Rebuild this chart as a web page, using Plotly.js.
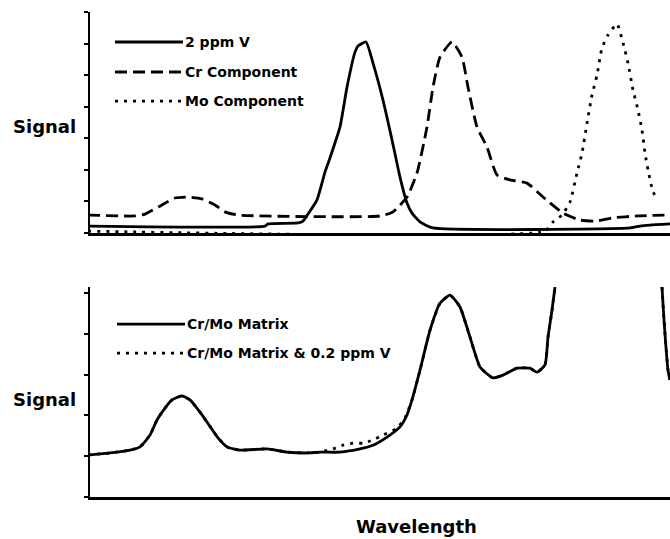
<!DOCTYPE html>
<html>
<head>
<meta charset="utf-8">
<script src="https://cdn.plot.ly/plotly-3.0.1.min.js"></script>
<style>html,body{margin:0;padding:0;background:#fff;}#chart{width:670px;height:539px;}</style>
</head>
<body>
<div id="chart"></div>
<script>
// ---- Top panel (arbitrary wavelength units) ----
var vX = [0,177,180,210,215,220,229,237,242,252,259,267,270,278,285,295,304,312,319,324,332,345,542,552,562,582];
var vY = [0.22,0.22,0.29,0.32,0.38,0.60,1.05,1.93,2.38,3.36,4.62,5.73,5.92,6.05,5.38,4.21,2.95,1.77,0.95,0.63,0.35,0.16,0.16,0.22,0.25,0.29];

var crX = [0,47,57,74,87,100,114,127,137,150,292,305,319,329,339,345,352,364,374,380,389,399,409,422,439,455,475,492,509,525,549,582];
var crY = [0.57,0.54,0.60,0.89,1.11,1.14,1.08,0.89,0.67,0.57,0.54,0.67,1.14,1.90,3.36,4.62,5.57,6.05,5.57,4.62,3.36,2.72,1.84,1.68,1.58,1.14,0.63,0.41,0.38,0.48,0.54,0.57];

var moX = [0,457,465,474,482,489,494,499,504,509,514,520,529,535,540,545,550,554,557,560,564,568];
var moY = [0.06,0.06,0.35,0.57,0.98,1.90,2.53,3.48,4.37,5.00,5.86,6.27,6.62,6.02,5.38,4.53,3.90,3.26,2.53,2.00,1.43,1.08];

// ---- Bottom panel ----
var mX = [0,22,42,52,62,69,77,84,94,102,112,119,130,139,152,179,199,219,232,252,272,285,299,312,319,324,332,342,352,362,372,382,392,405,415,429,442,449,457,460,464,467,null,574,576,580,582];
var mY = [1.03,1.08,1.15,1.23,1.52,1.89,2.18,2.38,2.48,2.38,2.08,1.84,1.45,1.23,1.15,1.18,1.10,1.08,1.10,1.10,1.18,1.27,1.47,1.72,2.01,2.38,3.11,4.09,4.75,4.95,4.66,3.92,3.19,2.92,2.99,3.16,3.16,3.06,3.24,3.92,4.58,5.15,null,5.15,4.34,3.11,2.87];

var mvX = [0,22,42,52,62,69,77,84,94,102,112,119,130,139,152,179,199,219,232,245,255,265,275,285,295,309,317,324,332,342,352,362,372,382,392,405,415,429,442,449,457,460,464,467,null,574,576,580,582];
var mvY = [1.03,1.08,1.15,1.23,1.52,1.89,2.18,2.38,2.48,2.38,2.08,1.84,1.45,1.23,1.15,1.18,1.10,1.08,1.10,1.18,1.27,1.32,1.32,1.40,1.52,1.69,1.94,2.38,3.11,4.09,4.75,4.95,4.66,3.92,3.19,2.92,2.99,3.16,3.16,3.06,3.24,3.92,4.58,5.15,null,5.15,4.34,3.11,2.87];

var topNames = ['2 ppm V', 'Cr Component', 'Mo Component'];
var botNames = ['Cr/Mo Matrix', 'Cr/Mo Matrix & 0.2 ppm V'];
var yLabel = 'Signal';
var xLabel = 'Wavelength';

var DASH = '12px,6px', DOT = '3px,6px', LW = 2.8;
var topDash = ['solid', DASH, DOT];
var botDash = ['solid', DOT];

function ln(d){ return {color: '#000', width: LW, dash: d, shape: 'spline', smoothing: 0.5}; }

var traces = [
  {x: vX, y: vY, xaxis: 'x', yaxis: 'y', name: topNames[0], mode: 'lines', line: ln(topDash[0])},
  {x: crX, y: crY, xaxis: 'x', yaxis: 'y', name: topNames[1], mode: 'lines', line: ln(topDash[1])},
  {x: moX, y: moY, xaxis: 'x', yaxis: 'y', name: topNames[2], mode: 'lines', line: ln(topDash[2])},
  {x: mvX, y: mvY, xaxis: 'x2', yaxis: 'y2', name: botNames[1], mode: 'lines', connectgaps: false, line: ln(botDash[1])},
  {x: mX, y: mY, xaxis: 'x2', yaxis: 'y2', name: botNames[0], mode: 'lines', connectgaps: false, line: ln(botDash[0])}
];
traces.forEach(function(t){ t.showlegend = false; t.hoverinfo = 'skip'; });

var lblFont = {family: 'DejaVu Sans', size: 14, color: '#000', weight: 'bold'};
var bigFont = {family: 'DejaVu Sans', size: 18, color: '#000', weight: 'bold'};

// custom legend (long line samples like the original)
var shapes = [], annotations = [];
var topLegY = [6.05, 5.10, 4.18], botLegY = [4.24, 3.53];
topNames.forEach(function(n, i){
  shapes.push({type: 'line', xref: 'x', yref: 'y', x0: 27, x1: 95, y0: topLegY[i], y1: topLegY[i], line: {color: '#000', width: LW, dash: topDash[i]}});
  annotations.push({xref: 'x', yref: 'y', x: 95, y: topLegY[i], text: n, showarrow: false, xanchor: 'left', yanchor: 'middle', font: lblFont});
});
botNames.forEach(function(n, i){
  shapes.push({type: 'line', xref: 'x2', yref: 'y2', x0: 29, x1: 97, y0: botLegY[i], y1: botLegY[i], line: {color: '#000', width: LW, dash: botDash[i]}});
  annotations.push({xref: 'x2', yref: 'y2', x: 97, y: botLegY[i], text: n, showarrow: false, xanchor: 'left', yanchor: 'middle', font: lblFont});
});
annotations.push({xref: 'paper', yref: 'y', x: 0, xshift: -12, y: 3.36, text: yLabel, showarrow: false, xanchor: 'right', yanchor: 'middle', font: bigFont});
annotations.push({xref: 'paper', yref: 'y2', x: 0, xshift: -12, y: 2.38, text: yLabel, showarrow: false, xanchor: 'right', yanchor: 'middle', font: bigFont});
annotations.push({xref: 'x2', yref: 'paper', x: 328, y: 0, yshift: -17, text: xLabel, showarrow: false, xanchor: 'center', yanchor: 'top', font: bigFont});

var xa = {range: [2, 582], showline: true, linecolor: '#000', linewidth: 2.5, ticks: '', showticklabels: false, showgrid: false, zeroline: false};
var ya = {showline: true, linecolor: '#000', linewidth: 2.5, ticks: 'outside', ticklen: 4, tickwidth: 2, tickcolor: '#000', dtick: 1, tick0: 0, showticklabels: false, showgrid: false, zeroline: false};

var layout = {
  width: 670, height: 539,
  margin: {l: 90, r: 0, t: 12, b: 42},
  paper_bgcolor: '#fff', plot_bgcolor: '#fff',
  showlegend: false,
  xaxis: Object.assign({}, xa, {anchor: 'y'}),
  yaxis: Object.assign({}, ya, {domain: [0.5443, 1], range: [0, 7], anchor: 'x'}),
  xaxis2: Object.assign({}, xa, {anchor: 'y2'}),
  yaxis2: Object.assign({}, ya, {domain: [0, 0.433], range: [0, 5.15], anchor: 'x2'}),
  shapes: shapes,
  annotations: annotations
};

Plotly.newPlot('chart', traces, layout, {staticPlot: true, displayModeBar: false});
</script>
</body>
</html>
